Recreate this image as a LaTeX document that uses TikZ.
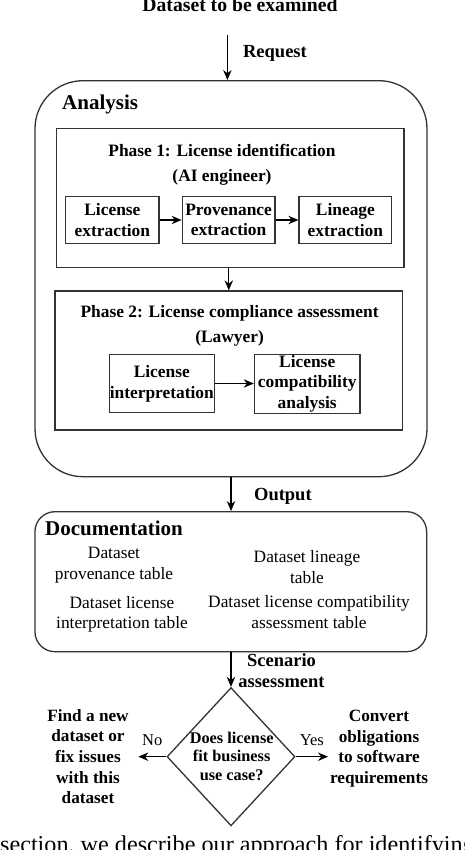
\documentclass[tikz,border=0pt]{standalone}
\usepackage{fontspec}
\setmainfont{Liberation Serif}
\usetikzlibrary{arrows.meta, shapes.geometric, positioning}
\definecolor{lcGrey}{HTML}{333333}
\tikzset{
  flow/.style     = {-{Stealth[length=5mm, width=4.2mm]}, line width=0.55mm, black},
  boxline/.style  = {draw=lcGrey, line width=0.65mm, fill=white, inner sep=0pt},
  lbl/.style      = {inner sep=0pt, align=center, font=\fontsize{26.3}{30.3}\selectfont\bfseries},
  head/.style     = {inner sep=0pt, font=\fontsize{29.9}{34}\selectfont\bfseries},
  doctxt/.style   = {inner sep=0pt, align=center, font=\fontsize{24.7}{29.5}\selectfont},
  btxt/.style     = {inner sep=0pt, align=center, font=\fontsize{24.5}{29.3}\selectfont\bfseries},
}

\begin{document}
\begin{tikzpicture}[x=1cm,y=1cm,
    anabox/.style={boxline, rounded corners=2.4cm, minimum width=19.6cm, minimum height=19.8cm},
    phasebox/.style={boxline, minimum width=17.37cm, minimum height=6.95cm},
    phtxt/.style={inner sep=0pt, align=center, font=\fontsize{24.75}{35.6}\selectfont\bfseries},
    taskbox/.style={boxline, align=center, minimum height=2.33cm, font=\fontsize{24.75}{29.5}\selectfont\bfseries},
    docbox/.style={boxline, rounded corners=1cm, minimum width=19.585cm, minimum height=7cm},
    decision/.style={diamond, boxline, minimum width=6.4cm, minimum height=6.915cm},
    dectxt/.style={inner sep=0pt, align=center, font=\fontsize{23.2}{26.3}\selectfont\bfseries},
    yn/.style={inner sep=0pt, font=\fontsize{23.5}{27}\selectfont}]
  \useasboundingbox (0,0) rectangle (23.2,-42.5);
  \clip (0,0) rectangle (23.2,-42.5);
  \node[lbl, font=\fontsize{28}{32}\selectfont\bfseries, anchor=base] (dset) at (12.0,-0.585) {Dataset to be examined};
  \coordinate (reqtop) at (11.37,-1.75);
  \node[lbl, anchor=base west] (reqlbl) at (12.15,-2.9) {Request};
  \node[anabox] (ana) at (11.55,-13.935) {};
  \node[head, anchor=base west] (anahd) at (3.1,-5.5) {Analysis};
  \node[phasebox] (ph1) at (11.52,-9.89) {};
  \node[phtxt] (ph1hd) at (11.1,-8.24) {Phase 1: License identification\\(AI engineer)};
  \node[taskbox, minimum width=4.665cm] (licex) at (5.62,-11.0) {License\\extraction};
  \node[taskbox, minimum width=4.635cm] (provex) at (11.43,-11.0) {Provenance\\extraction};
  \node[taskbox, minimum width=4.635cm] (linex) at (17.27,-11.0) {Lineage\\extraction};
  \node[phasebox] (ph2) at (11.44,-18.025) {};
  \node[phtxt] (ph2hd) at (11.48,-16.28) {Phase 2: License compliance assessment\\(Lawyer)};
  \node[taskbox, minimum width=5.25cm, minimum height=2.92cm] (licint) at (8.09,-19.175) {License\\interpretation};
  \node[taskbox, minimum width=5.285cm, minimum height=2.95cm] (liccomp) at (15.36,-19.19) {License\\compatibility\\analysis};
  \node[lbl, anchor=base west] (outlbl) at (12.7,-25.0) {Output};
  \node[docbox] (doc) at (11.54,-29.085) {};
  \node[head, anchor=base west] (dochd) at (2.25,-26.75) {Documentation};
  \node[doctxt] (provtab) at (5.7,-28.26) {Dataset\\provenance table};
  \node[doctxt] (lintab) at (15.35,-28.36) {Dataset lineage\\table};
  \node[doctxt] (inttab) at (6.1,-30.71) {Dataset license\\interpretation table};
  \node[doctxt] (comptab) at (15.45,-30.615) {Dataset license compatibility\\assessment table};
  \node[lbl] (scenlbl) at (14.075,-33.55) {Scenario\\assessment};
  \node[decision] (dec) at (11.55,-37.835) {};
  \node[dectxt] (dectx) at (11.585,-37.8) {Does license\\fit business\\use case?};
  \node[btxt] (nofix) at (4.4,-37.83) {Find a new\\dataset or\\fix issues\\with this\\dataset};
  \node[btxt] (convert) at (18.95,-37.44) {Convert\\obligations\\to software\\requirements};
  \coordinate (noend) at (6.915,-37.835);
  \coordinate (yesend) at (16.4,-37.835);
  \draw[flow] (reqtop) -- (reqtop |- ana.north);
  \draw[flow] (licex) -- (provex);
  \draw[flow] (provex) -- (linex);
  \draw[flow] (ph2.north |- ph1.south) -- (ph2.north);
  \draw[flow] (licint.east) -- (licint.east -| liccomp.west);
  \draw[flow] (ana.south) -- (ana.south |- doc.north);
  \draw[flow] (doc.south -| dec.north) -- (dec.north);
  \draw[flow] (dec.west) -- (noend) node[yn, midway, anchor=base, yshift=5.85mm] (nolbl) {No};
  \draw[flow] (dec.east) -- (yesend) node[yn, midway, anchor=base, yshift=5.85mm] (yeslbl) {Yes};
  \node[anchor=base west, inner sep=0pt, font=\fontsize{34.4}{40}\selectfont] (capt) at (0,-42.6) {section, we describe our approach for identifying};
\end{tikzpicture}
\end{document}
